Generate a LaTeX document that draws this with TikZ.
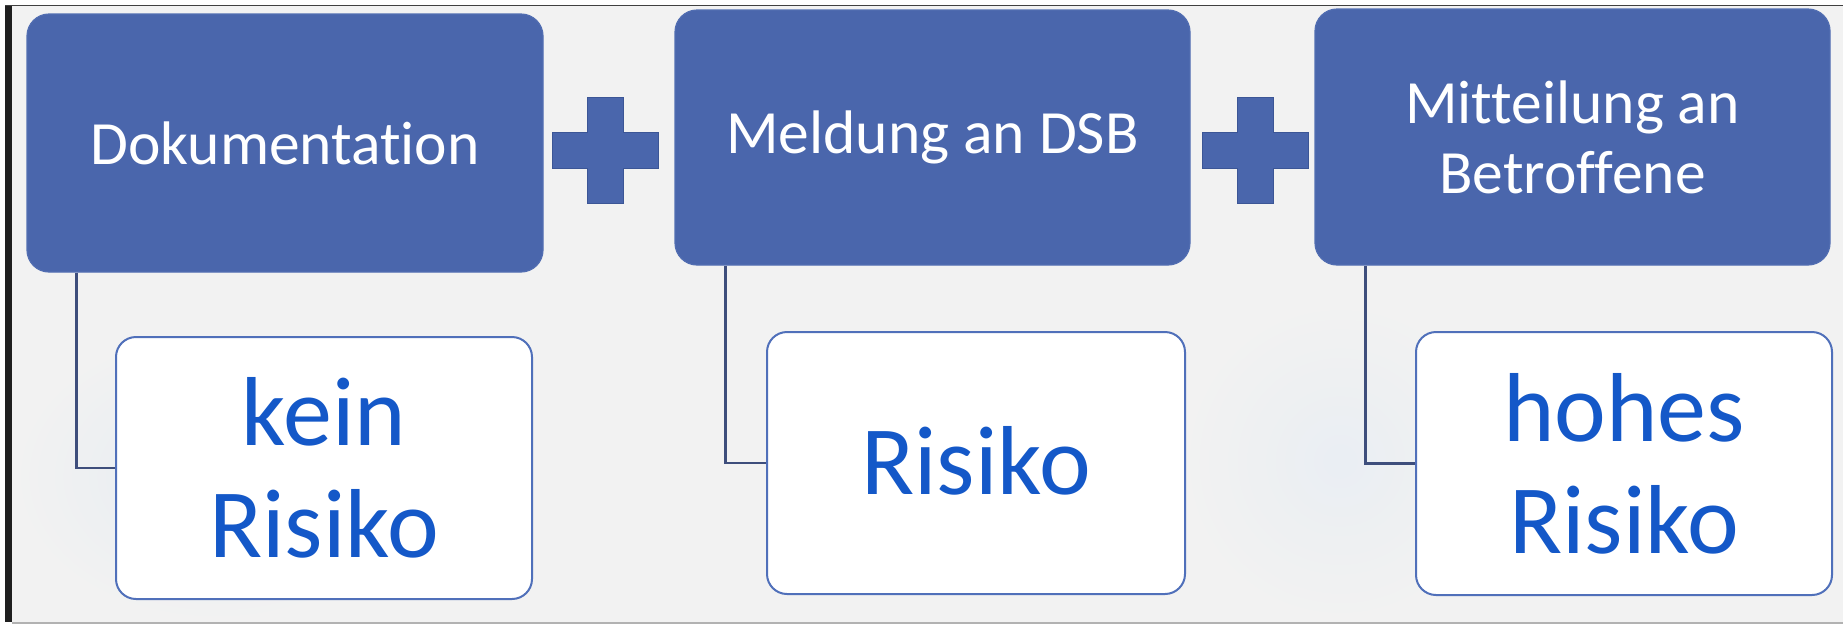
\documentclass[tikz,border=0pt]{standalone}
\usepackage{fontspec}
\setmainfont{Carlito}[Ligatures={NoCommon,NoRare,NoContextual}]
\definecolor{panel}{RGB}{242,242,242}
\definecolor{topblue}{RGB}{74,102,172}
\definecolor{topedge}{RGB}{82,110,178}
\definecolor{plusedge}{RGB}{60,86,150}
\definecolor{lowedge}{RGB}{80,112,186}
\definecolor{lowtext}{RGB}{20,88,200}
\definecolor{linkcol}{RGB}{62,78,124}
\definecolor{glow}{RGB}{230,236,243}
\tikzset{
  topbox/.style={draw=topedge, line width=1.2pt, fill=topblue, rounded corners=22pt,
    inner sep=0pt, align=center, text=white,
    font=\fontsize{61.5}{70}\selectfont},
  lowbox/.style={draw=lowedge, line width=2pt, fill=white, rounded corners=20pt,
    inner sep=0pt, align=center, text=lowtext,
    font=\fontsize{98}{112}\selectfont},
  link/.style={draw=linkcol, line width=2.2pt},
  plussign/.pic={
    \filldraw[fill=topblue, draw=plusedge, line width=1pt]
      (-18,-53) -- (18,-53) -- (18,-18) -- (53,-18) -- (53,18) -- (18,18)
      -- (18,53) -- (-18,53) -- (-18,18) -- (-53,18) -- (-53,-18) -- (-18,-18) -- cycle;
  }
}
\begin{document}
\begin{tikzpicture}[x=1pt, y=-1pt]
  \useasboundingbox (0,0) rectangle (1843,625);
  % frame and panel
  \fill[white] (0,0) rectangle (1843,625);
  \fill[panel] (12,6) rectangle (1843,622);
  \shade[inner color=glow, outer color=panel] (12,330) rectangle (420,622);
  \shade[inner color=glow!70!panel, outer color=panel] (1180,300) rectangle (1500,622);
  \fill[black!88] (5,5) rectangle (12,622);
  \draw[black!75, line width=1.5pt] (5,5.5) -- (1843,5.5);
  \draw[black!30, line width=2pt] (12,622.5) -- (1843,622.5);

  % top boxes
  \node[topbox, minimum width=516pt, minimum height=258pt] (b1) at (285,143) {Dokumentation};
  \node[topbox, minimum width=515pt, minimum height=255pt] (b2) at (932.5,137.5) {Meldung an DSB};
  \node[topbox, minimum width=515pt, minimum height=256pt] (b3) at (1572.5,137) {Mitteilung an\\Betroffene};

  % plus signs
  \pic at (605.5,150.5) {plussign};
  \pic at (1255,150) {plussign};

  % lower boxes
  \node[lowbox, minimum width=416pt, minimum height=262pt] (l1) at (324,468) {kein\\Risiko};
  \node[lowbox, minimum width=418pt, minimum height=262pt] (l2) at (976,463) {\raisebox{5pt}{Risiko}};
  \node[lowbox, minimum width=416pt, minimum height=263pt] (l3) at (1624,463.5) {hohes\\Risiko};

  % connectors
  \draw[link] (b1.south west) ++(50,0) |- (l1.west);
  \draw[link] (b2.south west) ++(51,0) |- (l2.west);
  \draw[link] (b3.south west) ++(51,0) |- (l3.west);
\end{tikzpicture}
\end{document}
